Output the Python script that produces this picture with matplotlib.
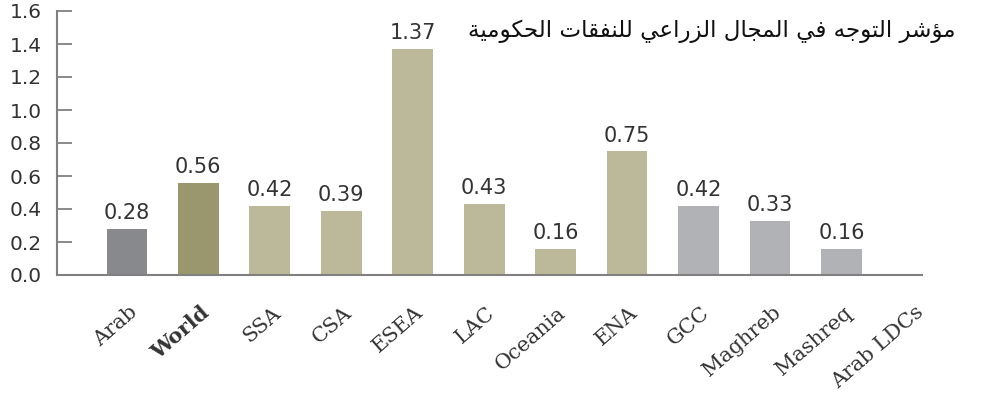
import matplotlib
matplotlib.use('Agg')
import matplotlib.pyplot as plt
import matplotlib.transforms as mtransforms
import numpy as np

# data
categories = ['Arab', 'World', 'SSA', 'CSA', 'ESEA', 'LAC', 'Oceania',
              'ENA', 'GCC', 'Maghreb', 'Mashreq', 'Arab LDCs']
values = [0.28, 0.56, 0.42, 0.39, 1.37, 0.43, 0.16, 0.75, 0.42, 0.33, 0.16, np.nan]
yticks = [0.0, 0.2, 0.4, 0.6, 0.8, 1.0, 1.2, 1.4, 1.6]
title = 'مؤشر التوجه في المجال الزراعي للنفقات الحكومية'

bar_colors = ['#88898d', '#9a976f', '#bcb99a', '#bcb99a', '#bcb99a', '#bcb99a',
              '#bcb99a', '#bcb99a', '#b1b2b6', '#b1b2b6', '#b1b2b6', '#b1b2b6']

# matplotlib does no arabic shaping, so pick presentation forms by hand
# (isolated, final, initial, medial)
FORMS = {
    'ا': (0xFE8D, 0xFE8E, None, None),
    'ؤ': (0xFE85, 0xFE86, None, None),
    'ة': (0xFE93, 0xFE94, None, None),
    'ر': (0xFEAD, 0xFEAE, None, None),
    'ز': (0xFEAF, 0xFEB0, None, None),
    'و': (0xFEED, 0xFEEE, None, None),
    'ت': (0xFE95, 0xFE96, 0xFE97, 0xFE98),
    'ج': (0xFE9D, 0xFE9E, 0xFE9F, 0xFEA0),
    'ح': (0xFEA1, 0xFEA2, 0xFEA3, 0xFEA4),
    'ش': (0xFEB5, 0xFEB6, 0xFEB7, 0xFEB8),
    'ع': (0xFEC9, 0xFECA, 0xFECB, 0xFECC),
    'ف': (0xFED1, 0xFED2, 0xFED3, 0xFED4),
    'ق': (0xFED5, 0xFED6, 0xFED7, 0xFED8),
    'ك': (0xFED9, 0xFEDA, 0xFEDB, 0xFEDC),
    'ل': (0xFEDD, 0xFEDE, 0xFEDF, 0xFEE0),
    'م': (0xFEE1, 0xFEE2, 0xFEE3, 0xFEE4),
    'ن': (0xFEE5, 0xFEE6, 0xFEE7, 0xFEE8),
    'ه': (0xFEE9, 0xFEEA, 0xFEEB, 0xFEEC),
    'ي': (0xFEF1, 0xFEF2, 0xFEF3, 0xFEF4),
}


def shape_arabic(s):
    out = []
    for i, ch in enumerate(s):
        if ch not in FORMS:
            out.append(ch)
            continue
        forms = FORMS[ch]
        prev = s[i - 1] if i > 0 else ''
        nxt = s[i + 1] if i + 1 < len(s) else ''
        join_prev = prev in FORMS and FORMS[prev][2] is not None
        join_next = forms[2] is not None and nxt in FORMS
        if join_prev and join_next:
            code = forms[3]
        elif join_prev:
            code = forms[1]
        elif join_next:
            code = forms[2]
        else:
            code = forms[0]
        out.append(chr(code))
    return ''.join(reversed(out))


fig = plt.figure(figsize=(9.81, 4.0), dpi=100)
ax = fig.add_axes([0.058, 0.3125, 0.882, 0.66])

x = np.arange(len(categories))
ax.bar(x, values, width=0.57, color=bar_colors)

for xi, v in zip(x, values):
    if np.isnan(v):
        continue
    ax.annotate('%.2f' % v, (xi, v), xytext=(0, 4), textcoords='offset points',
                ha='center', va='bottom', fontsize=15, color='#333333',
                family='DejaVu Sans')

ax.set_xlim(-0.98, 11.13)
ax.set_ylim(0, 1.6)
ax.set_yticks(yticks)
ax.set_yticklabels(['%.1f' % t for t in yticks], fontsize=14.5, color='#333333')
ax.tick_params(axis='y', direction='in', length=11, width=1.3, color='#808080', pad=11)
ax.tick_params(axis='x', length=0, pad=0)

ax.set_xticks(x)
ax.set_xticklabels(categories, rotation=41, ha='right', va='center',
                   rotation_mode='anchor', family='DejaVu Serif',
                   fontsize=15, color='#333333')
ax.get_xticklabels()[1].set_fontweight('bold')
offset = mtransforms.ScaledTranslation(0.08, -0.35, fig.dpi_scale_trans)
for lbl in ax.get_xticklabels():
    lbl.set_transform(lbl.get_transform() + offset)

for side in ('top', 'right'):
    ax.spines[side].set_visible(False)
for side in ('left', 'bottom'):
    ax.spines[side].set_color('#808080')
    ax.spines[side].set_linewidth(1.5)

fig.text(955 / 981, 1 - 31 / 400, shape_arabic(title), ha='right', va='center',
         fontsize=16.6, color='#111111', family=['DejaVu Sans'])

fig.savefig('out.png', dpi=100)
